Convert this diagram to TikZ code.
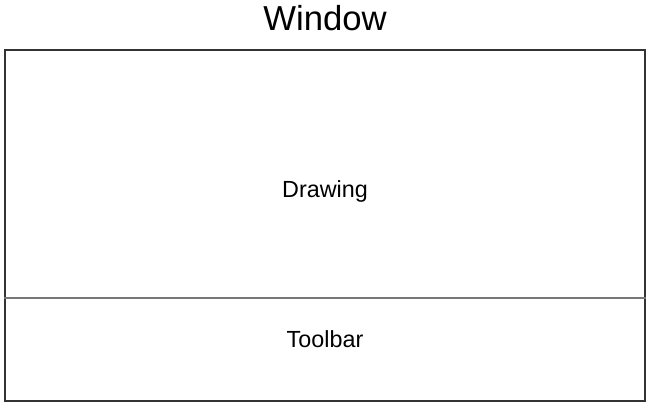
\documentclass[tikz,border=0pt]{standalone}
\usepackage{fontspec}
\setmainfont{Liberation Sans}
\usetikzlibrary{positioning}
\definecolor{edgegray}{HTML}{333333}
\definecolor{splitgray}{HTML}{777777}
\tikzset{
	winbox/.style = {draw = edgegray, line width = 1.5pt, inner sep = 0pt,
		minimum width = 480pt, minimum height = 263.25pt},
	partlabel/.style = {font = \fontsize{17.5}{20}\selectfont},
	divider/.style = {draw = splitgray, line width = 1pt}
}
\begin{document}
\begin{tikzpicture} [x = 0.75pt, y = 0.75pt]
	\useasboundingbox (0,0) rectangle (650,405);
	\node [winbox] (window) at (325,179.5) {};
	\node [font = \fontsize{26}{30}\selectfont] (title) at (325,387) {Window};
	\coordinate (split) at (0,107);
	\draw [divider] (window.west |- split) -- (window.east |- split);
	\node [partlabel] (drawing) at (325,214) {Drawing};
	\node [partlabel] (toolbar) at (325,66) {Toolbar};
	%\draw [red] (0,0) rectangle (650,405);
\end{tikzpicture}
\end{document}
